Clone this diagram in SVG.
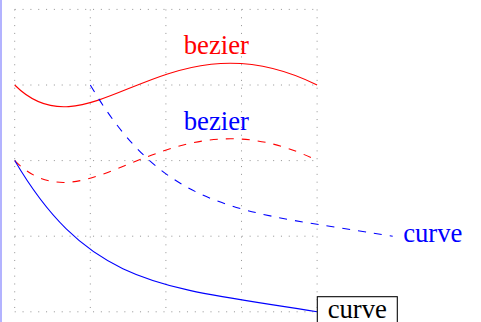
<svg xmlns="http://www.w3.org/2000/svg" width="481" height="322" viewBox="0 0 481 322">
<style>
.grid{stroke:#999;stroke-width:1;stroke-dasharray:1.07 6.76;fill:none}
.c{fill:none;stroke-width:1.07}
.red{stroke:#ff0000}
.blue{stroke:#0000ff}
.dash{stroke-dasharray:8 8}
.t{font-family:"Liberation Serif","DejaVu Serif",serif;font-size:26.7px}
</style>
<rect x="0" y="0" width="481" height="322" fill="#fff"/>
<rect x="0" y="0" width="2" height="322" fill="#b3b3ff"/>
<g id="grid" class="grid">
<path d="M14.7,9.4V311.8M90.3,9.4V311.8M165.9,9.4V311.8M241.5,9.4V311.8M317.1,9.4V311.8"/>
<path d="M14.7,9.4H317.1M14.7,85H317.1M14.7,160.6H317.1M14.7,236.2H317.1M14.7,311.8H317.1"/>
</g>
<g id="connectors">
<path class="c red" d="M14.7,85C90.3,160.6 165.9,9.4 317.1,85"/>
<path class="c red dash" d="M14.7,160.6C90.3,236.2 165.9,85 317.1,160.6"/>
<path class="c blue" d="M14.7,160.6C90.3,289.1 165.9,286.9 317.1,311.8"/>
<path class="c blue dash" d="M90.3,85C165.9,213.5 241.5,211.3 392.7,236.2"/>
</g>
<g id="label-bezier-red"><text class="t" x="216.3" y="54" text-anchor="middle" fill="#ff0000">bezier</text></g>
<g id="label-bezier-blue"><text class="t" x="216.3" y="130" text-anchor="middle" fill="#0000ff">bezier</text></g>
<g id="label-curve-blue"><text class="t" x="432.8" y="241.9" text-anchor="middle" fill="#0000ff">curve</text></g>
<g id="node-curve-box">
<rect x="317.3" y="296.7" width="80" height="30.2" fill="#fff" stroke="#000" stroke-width="1.07"/>
<text class="t" x="357.3" y="317.5" text-anchor="middle" fill="#000">curve</text>
</g>
</svg>
